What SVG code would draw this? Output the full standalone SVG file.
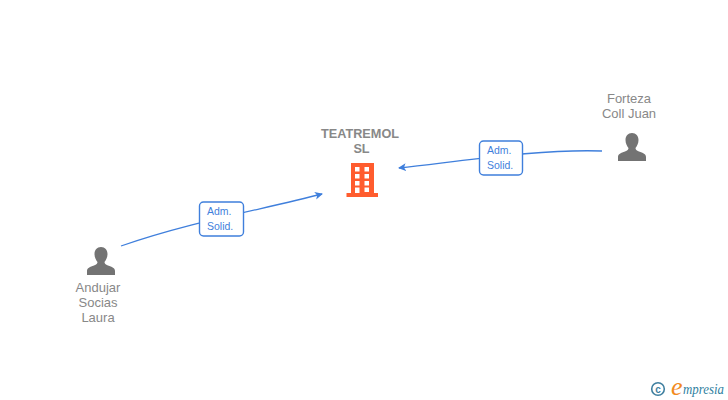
<svg xmlns="http://www.w3.org/2000/svg" width="728" height="400" viewBox="0 0 728 400">
<style>
text{font-family:"Liberation Sans",Arial,sans-serif}
.n{font-size:13px;fill:#888;text-anchor:middle}
.b{font-size:12.700px;fill:#888;text-anchor:middle;font-weight:bold}
.l{font-size:10.500px;fill:#3f7fdc;text-anchor:start}
.e{fill:none;stroke:#3f7fdc;stroke-width:1.300}
.box{fill:#fff;stroke:#3f7fdc;stroke-width:1.400}
.p{fill:#737373}
.o{fill:#ff5c2e}
.wm{font-family:"Liberation Serif",serif;font-style:italic}
</style>
<defs>
<marker id="a" markerWidth="10" markerHeight="10" refX="7" refY="4" orient="auto" markerUnits="userSpaceOnUse"><path d="M0,0L8,4L0,8L2,4Z" fill="#3f7fdc"/></marker>
<symbol id="person" viewBox="0 0 28 28" overflow="visible"><path class="p" d="M14,0C18,0 20.500,3 20.500,7C20.500,10.500 19,13 17.500,15C17.500,16.500 18.500,17.500 21,18.500C25,20 28,21 28,24V28H0V24C0,21 3,20 7,18.500C9.500,17.500 10.500,16.500 10.500,15C9,13 7.500,10.500 7.500,7C7.500,3 10,0 14,0Z"/></symbol>
</defs>
<g id="connectors">
<path class="e" marker-end="url(#a)" d="M121,246C190,222 260,210 322,194"/>
<path class="e" marker-end="url(#a)" d="M602,151C540,149 470,160 399,168"/>
</g>
<g id="edge-label-1"><rect class="box" x="199.500" y="202" width="44" height="34" rx="4"/><text class="l" x="207" y="215">Adm.</text><text class="l" x="207" y="230">Solid.</text></g>
<g id="edge-label-2"><rect class="box" x="479.500" y="141" width="43" height="34" rx="4"/><text class="l" x="487" y="154">Adm.</text><text class="l" x="487" y="169">Solid.</text></g>
<g id="node-teatremol">
<text class="b" x="360" y="138">TEATREMOL</text><text class="b" x="361.500" y="153">SL</text>
<path class="o" fill-rule="evenodd" d="M351,163H374V193H378V197H346.500V193H351ZM355,167V171.500H359.500V167ZM364.500,167V171.500H369V167ZM355,174V178.500H359.500V174ZM364.500,174V178.500H369V174ZM355,181V185.500H359.500V181ZM364.500,181V185.500H369V181ZM355,187.500V193H359.500V187.500ZM364.500,187.500V192H369V187.500Z"/>
</g>
<g id="node-forteza">
<text class="n" x="629" y="103">Forteza</text><text class="n" x="629" y="118">Coll Juan</text>
<use href="#person" x="618" y="133" width="28" height="28"/>
</g>
<g id="node-andujar">
<use href="#person" x="87" y="247" width="28" height="28"/>
<text class="n" x="98" y="292">Andujar</text><text class="n" x="98" y="307">Socias</text><text class="n" x="98" y="322">Laura</text>
</g>
<g id="watermark">
<circle cx="658" cy="389" r="6.300" fill="none" stroke="#3f7f9f" stroke-width="1.600"/>
<text x="658" y="392.500" font-size="10" fill="#3f7f9f" text-anchor="middle" font-weight="bold">c</text>
<text class="wm" x="671" y="395" font-size="26" fill="#f28a1e">e</text>
<text class="wm" x="683" y="394" font-size="14" fill="#2f7f9f" textLength="41" lengthAdjust="spacingAndGlyphs">mpresia</text>
</g>
</svg>
